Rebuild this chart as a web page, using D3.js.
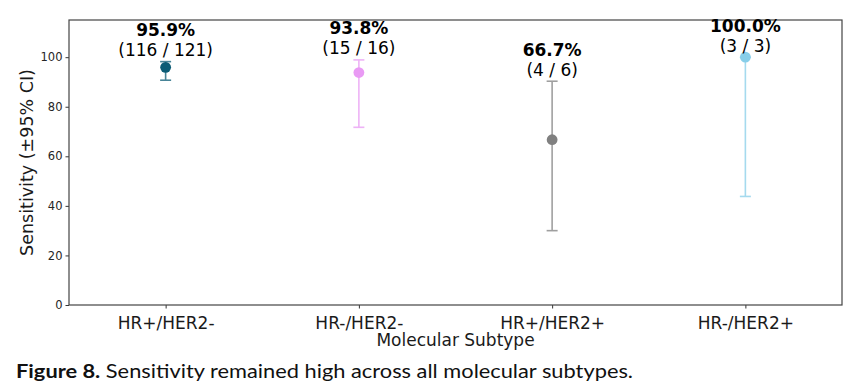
<!DOCTYPE html>
<html>
<head>
<meta charset="utf-8">
<script src="https://cdn.jsdelivr.net/npm/d3@7"></script>
<style>
body{margin:0;background:#fff;}
svg{display:block;}
</style>
</head>
<body>
<svg id="chart" width="856" height="386"></svg>
<script>
// subtypes and sensitivity values (Wilson 95% CI)
const categories=["HR+/HER2-","HR-/HER2-","HR+/HER2+","HR-/HER2+"];
const sensitivity=[95.9,93.8,66.7,100.0];
const detected=[116,15,4,3];
const totals=[121,16,6,3];
const ciLower=[90.7,71.7,30.0,43.8];
const ciUpper=[98.2,98.9,90.3,100.0];
const colors=["#0b5b75","#e99af4","#808080","#87cee9"];
const yTicks=[0,20,40,60,80,100];

const svg=d3.select("#chart");
const m={left:69,right:842,top:20,bottom:305};
const font="'DejaVu Sans', sans-serif";

const x=d3.scalePoint().domain(categories).range([m.left,m.right]).padding(0.5);
const y=d3.scaleLinear().domain([0,115]).range([m.bottom,m.top]);

const rows=categories.map((c,i)=>({cat:c,v:sensitivity[i],k:detected[i],n:totals[i],lo:ciLower[i],hi:ciUpper[i],col:colors[i]}));

// axes
const yAxis=svg.append("g").attr("transform","translate("+m.left+",0)")
  .call(d3.axisLeft(y).tickValues(yTicks).tickSize(3.5).tickPadding(3));
yAxis.selectAll("text").style("font-family",font).style("font-size","11.5px").style("fill","#262626");
const xAxis=svg.append("g").attr("transform","translate(0,"+m.bottom+")")
  .call(d3.axisBottom(x).tickSize(3.5).tickPadding(4));
xAxis.selectAll("text").style("font-family",font).style("font-size","17px").style("fill","#1a1a1a").attr("dy","0.95em");
svg.selectAll(".domain").remove();
svg.selectAll(".tick line").attr("stroke","#333");

// frame
svg.append("rect").attr("x",m.left).attr("y",m.top).attr("width",m.right-m.left).attr("height",m.bottom-m.top)
  .attr("fill","none").attr("stroke","#444").attr("stroke-width",1.2);

// error bars
const eb=svg.append("g").selectAll("g").data(rows).join("g").attr("opacity",0.75);
eb.append("line").attr("x1",d=>x(d.cat)).attr("x2",d=>x(d.cat)).attr("y1",d=>y(d.lo)).attr("y2",d=>y(d.hi))
  .attr("stroke",d=>d.col).attr("stroke-width",1.6);
eb.append("line").attr("x1",d=>x(d.cat)-5.5).attr("x2",d=>x(d.cat)+5.5).attr("y1",d=>y(d.lo)).attr("y2",d=>y(d.lo))
  .attr("stroke",d=>d.col).attr("stroke-width",1.6);
eb.append("line").attr("x1",d=>x(d.cat)-5.5).attr("x2",d=>x(d.cat)+5.5).attr("y1",d=>y(d.hi)).attr("y2",d=>y(d.hi))
  .attr("stroke",d=>d.col).attr("stroke-width",1.6);

// points
svg.append("g").selectAll("circle").data(rows).join("circle")
  .attr("cx",d=>x(d.cat)).attr("cy",d=>y(d.v)).attr("r",5.4).attr("fill",d=>d.col);

// labels above the upper CI, two lines each
const lab=svg.append("g");
lab.selectAll("text.pct").data(rows).join("text").attr("class","pct")
  .attr("x",d=>x(d.cat)).attr("y",d=>y(d.hi)-25.5).attr("text-anchor","middle")
  .style("font-family",font).style("font-size","17px").style("font-weight","bold").style("fill","#000")
  .text(d=>d.v.toFixed(1)+"%");
lab.selectAll("text.cnt").data(rows).join("text").attr("class","cnt")
  .attr("x",d=>x(d.cat)).attr("y",d=>y(d.hi)-5.5).attr("text-anchor","middle")
  .style("font-family",font).style("font-size","17px").style("fill","#000")
  .text(d=>"("+d.k+" / "+d.n+")");

// axis titles
svg.append("text").attr("x",(m.left+m.right)/2).attr("y",345.5).attr("text-anchor","middle")
  .style("font-family",font).style("font-size","17px").style("fill","#1a1a1a").text("Molecular Subtype");
svg.append("text").attr("transform","translate(33,"+((m.top+m.bottom)/2)+") rotate(-90)").attr("text-anchor","middle")
  .style("font-family",font).style("font-size","17.5px").style("fill","#1a1a1a").text("Sensitivity (±95% CI)");

// caption
const cap=svg.append("text").attr("x",16).attr("y",377.7).attr("textLength",617).attr("lengthAdjust","spacingAndGlyphs")
  .style("font-family","Lato, 'Open Sans', sans-serif").style("font-size","18.5px").style("fill","#111");
cap.append("tspan").style("font-weight","bold").text("Figure 8.");
cap.append("tspan").text(" Sensitivity remained high across all molecular subtypes.");
</script>
</body>
</html>
